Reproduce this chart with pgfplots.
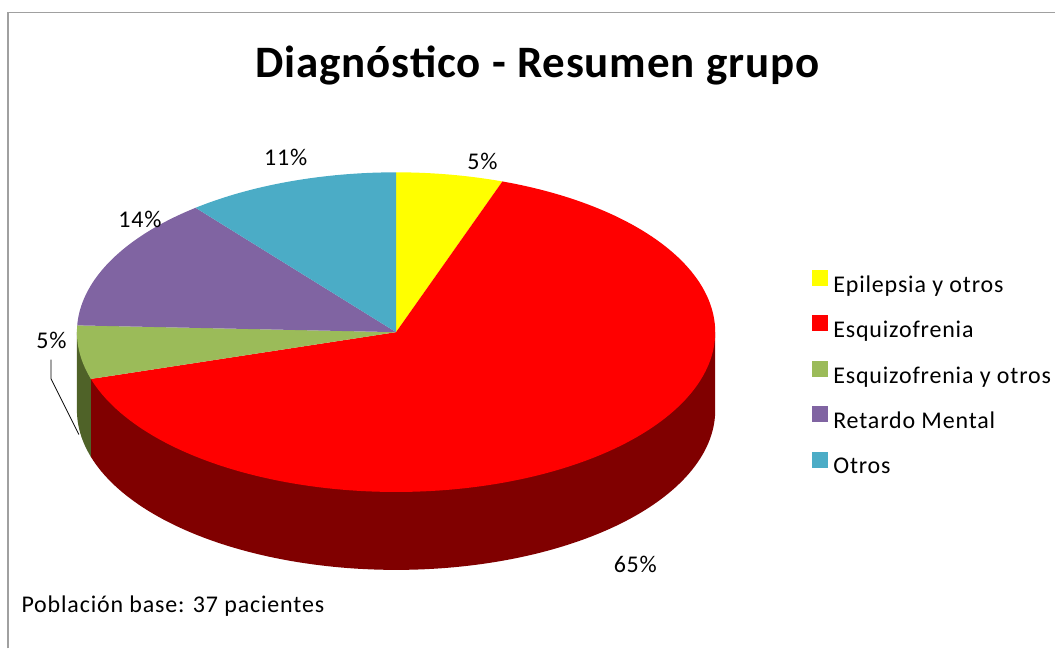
\documentclass[border=0pt]{standalone}
\usepackage{pgfplots}
\pgfplotsset{compat=1.18}
\usepackage{fontspec}
\setmainfont{Carlito}
\newfontfamily\spfont[LetterSpace=3.5]{Carlito}
\newfontfamily\tifont[LetterSpace=2]{Carlito}
\definecolor{cYel}{HTML}{FFFF00}
\definecolor{cRed}{HTML}{FF0000}
\definecolor{cRedD}{HTML}{800000}
\definecolor{cGrn}{HTML}{9BBB59}
\definecolor{cGrnD}{HTML}{4F6228}
\definecolor{cPur}{HTML}{8064A2}
\definecolor{cTea}{HTML}{4BACC6}
\definecolor{cBord}{HTML}{A0A0A0}
\begin{document}
\begin{tikzpicture}
% data: patients per diagnosis (37 in total)
\def\vA{2}  % Epilepsia y otros
\def\vB{24} % Esquizofrenia
\def\vC{2}  % Esquizofrenia y otros
\def\vD{5}  % Retardo Mental
\def\vE{4}  % Otros
\pgfmathsetmacro\tot{\vA+\vB+\vC+\vD+\vE}
\pgfmathsetmacro\aA{90}
\pgfmathsetmacro\aB{\aA-360*\vA/\tot}
\pgfmathsetmacro\aC{\aB-360*\vB/\tot}
\pgfmathsetmacro\aD{\aC-360*\vC/\tot}
\pgfmathsetmacro\aE{\aD-360*\vD/\tot}
\pgfmathsetmacro\aF{\aE-360*\vE/\tot}
\def\cx{396.5}\def\cy{332.5}\def\rx{319.5}\def\ry{160}\def\dep{78}
\pgfmathsetmacro\xC{\cx+\rx*cos(\aC)}
\pgfmathsetmacro\yC{\cy-\ry*sin(\aC)}
\pgfmathsetmacro\xR{\cx+\rx}
\pgfmathsetmacro\xL{\cx-\rx}
\begin{axis}[scale only axis, width=1056pt, height=649pt,
  xmin=0, xmax=1056, ymin=0, ymax=649, y dir=reverse,
  hide axis, clip=false,
  legend style={at={(axis cs:810,268)}, anchor=north west, draw=none, fill=none,
    font=\fontsize{24}{24}\spfont, row sep=19.5pt, column sep=3pt,
    cells={anchor=west}},
  legend image code/.code={\fill[#1] (0pt,-1pt) rectangle (16pt,15pt);},
]
\path (axis cs:0,0) rectangle (axis cs:1056,649);
% front sides
\addplot[draw=none, fill=cRedD, domain=\aC:0, samples=120, variable=\t, forget plot]
  ({\cx+\rx*cos(\t)},{\cy+\dep-\ry*sin(\t)})
  -- (axis cs:\xR,\cy) -- (axis cs:\xC,\yC) -- cycle;
\addplot[draw=none, fill=cGrnD, domain=-180:\aC, samples=30, variable=\t, forget plot]
  ({\cx+\rx*cos(\t)},{\cy+\dep-\ry*sin(\t)})
  -- (axis cs:\xC,\yC) -- (axis cs:\xL,\cy) -- cycle;
% top faces
\addplot[draw=none, fill=cYel, domain=\aB:\aA, samples=30, variable=\t]
  ({\cx+\rx*cos(\t)},{\cy-\ry*sin(\t)}) -- (axis cs:\cx,\cy) -- cycle;
\addlegendentry{Epilepsia y otros}
\addplot[draw=none, fill=cRed, domain=\aC:\aB, samples=160, variable=\t]
  ({\cx+\rx*cos(\t)},{\cy-\ry*sin(\t)}) -- (axis cs:\cx,\cy) -- cycle;
\addlegendentry{Esquizofrenia}
\addplot[draw=none, fill=cGrn, domain=\aD:\aC, samples=30, variable=\t]
  ({\cx+\rx*cos(\t)},{\cy-\ry*sin(\t)}) -- (axis cs:\cx,\cy) -- cycle;
\addlegendentry{Esquizofrenia y otros}
\addplot[draw=none, fill=cPur, domain=\aE:\aD, samples=50, variable=\t]
  ({\cx+\rx*cos(\t)},{\cy-\ry*sin(\t)}) -- (axis cs:\cx,\cy) -- cycle;
\addlegendentry{Retardo Mental}
\addplot[draw=none, fill=cTea, domain=\aF:\aE, samples=40, variable=\t]
  ({\cx+\rx*cos(\t)},{\cy-\ry*sin(\t)}) -- (axis cs:\cx,\cy) -- cycle;
\addlegendentry{Otros}
% leader line
\addplot[black, line width=0.8pt, forget plot] coordinates {(51,360) (51,379) (79,435)};
% border
\addplot[cBord, line width=1.3pt, forget plot] coordinates {(8,649) (8,12.5) (1056,12.5)};
% labels
\node[anchor=base, font=\fontsize{45}{48}\tifont\bfseries] at (axis cs:538,78) {Diagnóstico - Resumen grupo};
\begin{scope}[every node/.style={anchor=base, font=\fontsize{24}{24}\spfont}]
\node at (axis cs:483,170) {5\%};
\node at (axis cs:286,166) {11\%};
\node at (axis cs:140,228) {14\%};
\node at (axis cs:51.5,349) {5\%};
\node at (axis cs:636,573) {65\%};
\node[anchor=base west] at (axis cs:18,613) {Población base: 37 pacientes};
\end{scope}
\end{axis}
\end{tikzpicture}
\end{document}
